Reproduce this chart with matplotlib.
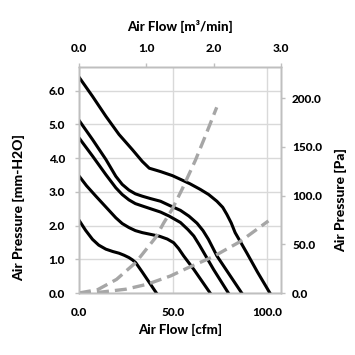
import matplotlib
matplotlib.use("Agg")
import matplotlib.pyplot as plt

plt.rcParams['font.family'] = ['Lato', 'DejaVu Sans']
plt.rcParams['font.weight'] = 'black'

# fan P-Q curves, air flow [cfm] vs static pressure [mm-H2O]
cfm_1 = [0, 7.2, 14.3, 21.3, 28.4, 33.7, 37.4, 43.4, 49.7, 54, 59, 64.6, 69, 73.4,
         76.5, 78.7, 81, 83.1, 86, 89.3, 95, 101.6]
mm_1 = [6.40, 5.83, 5.24, 4.70, 4.25, 3.90, 3.70, 3.60, 3.48, 3.37, 3.24, 3.07, 2.92, 2.72,
        2.54, 2.33, 2.08, 1.79, 1.51, 1.19, 0.62, 0.0]

cfm_2 = [0, 7.2, 14.3, 19.6, 23, 26.6, 30, 33.7, 38, 43.4, 48, 54, 58.5, 62.8,
         66, 68.9, 73.4, 80, 86.6]
mm_2 = [5.12, 4.55, 3.96, 3.46, 3.22, 3.05, 2.94, 2.87, 2.80, 2.72, 2.60, 2.45, 2.28, 2.07,
        1.85, 1.59, 1.10, 0.55, 0.0]

cfm_3 = [0, 7.2, 14.3, 19.6, 23, 26.6, 30, 33.7, 38, 43.4, 48, 54, 58, 61.1,
         64, 66.4, 71.6, 79.5]
mm_3 = [4.60, 4.06, 3.51, 3.12, 2.92, 2.76, 2.65, 2.58, 2.50, 2.40, 2.28, 2.09, 1.88, 1.69,
        1.43, 1.20, 0.70, 0.0]

cfm_4 = [0, 4, 9, 14.3, 19.6, 23, 26.6, 30, 33.7, 38, 43, 47, 50.4, 53, 55.7, 61.1, 69.8]
mm_4 = [3.47, 3.18, 2.87, 2.55, 2.23, 2.06, 1.94, 1.85, 1.79, 1.74, 1.68, 1.60, 1.49, 1.32,
        1.10, 0.70, 0.0]

cfm_5 = [0, 3.5, 7.2, 10.5, 14.3, 18, 21.3, 24, 26.6, 28.5, 30.2, 33.7, 41.2]
mm_5 = [2.16, 1.86, 1.59, 1.42, 1.30, 1.23, 1.18, 1.12, 1.05, 0.98, 0.90, 0.62, 0.0]

# system impedance curves, air flow [cfm] vs pressure [Pa]
imp_cfm_a = [0, 10.0, 20.0, 30.2, 40.8, 45.1, 49.6, 55.0, 61.9, 67.0, 73.3]
imp_pa_a = [0, 3.5, 14.0, 31.3, 57.0, 72.0, 86.0, 107.0, 136.0, 160.0, 190.6]

imp_cfm_b = [0, 12.0, 24.9, 36.3, 48.7, 57.3, 71.4, 85.6, 100.8]
imp_pa_b = [0, 1.0, 3.9, 9.0, 17.5, 25.3, 37.3, 52.6, 74.0]

fig = plt.figure(figsize=(3.55, 3.55), dpi=100)
ax = fig.add_axes([0.2225, 0.1746, 0.569, 0.6367])
axr = ax.twinx()
axt = ax.twiny()

grid_c = '#d9d9d9'
spine_c = '#bfbfbf'

for cx, cy in [(cfm_1, mm_1), (cfm_2, mm_2), (cfm_3, mm_3), (cfm_4, mm_4), (cfm_5, mm_5)]:
    ax.plot(cx, cy, color='black', lw=2.2, solid_joinstyle='round', zorder=3)

for cx, cy in [(imp_cfm_a, imp_pa_a), (imp_cfm_b, imp_pa_b)]:
    axr.plot(cx, cy, color='#a6a6a6', lw=2.4, dashes=(3.6, 1.8), zorder=3)

ax.set_xlim(0, 107.5)
ax.set_ylim(0, 6.7)
axr.set_ylim(0, 232)
axt.set_xlim(0, 3.0)

ax.set_xticks([0, 50, 100])
ax.set_xticklabels(['0.0', '50.0', '100.0'])
ax.set_yticks([0, 1, 2, 3, 4, 5, 6])
ax.set_yticklabels([f'{v:.1f}' for v in range(7)])
axr.set_yticks([0, 50, 100, 150, 200])
axr.set_yticklabels(['0.0', '50.0', '100.0', '150.0', '200.0'])
axt.set_xticks([0, 1, 2, 3])
axt.set_xticklabels(['0.0', '1.0', '2.0', '3.0'])

ax.grid(True, color=grid_c, lw=1.0)
ax.set_axisbelow(True)

for a in (ax, axr, axt):
    for s in a.spines.values():
        s.set_color(spine_c)
        s.set_linewidth(1.0)
    a.tick_params(colors=spine_c, labelcolor='black', labelsize=8.5, length=3, width=1.0)
    for lab in a.get_xticklabels() + a.get_yticklabels():
        lab.set_fontweight('black')

ax.tick_params(axis='x', length=0, pad=10)
ax.tick_params(axis='y', pad=7)
axr.tick_params(axis='y', pad=5)
axt.tick_params(axis='x', pad=6)

ax.set_xlabel('Air Flow [cfm]', fontsize=9.5, fontweight='black', labelpad=4)
axt.set_xlabel('Air Flow [m³/min]', fontsize=9.5, fontweight='black', labelpad=9)
ax.set_ylabel('Air Pressure [mm-H2O]', fontsize=10, fontweight='black')
axr.set_ylabel('Air Pressure [Pa]', fontsize=10, fontweight='black')
ax.yaxis.set_label_coords(-0.265, 0.38)
axr.yaxis.set_label_coords(1.27, 0.41)

fig.savefig('out.png', dpi=100)
